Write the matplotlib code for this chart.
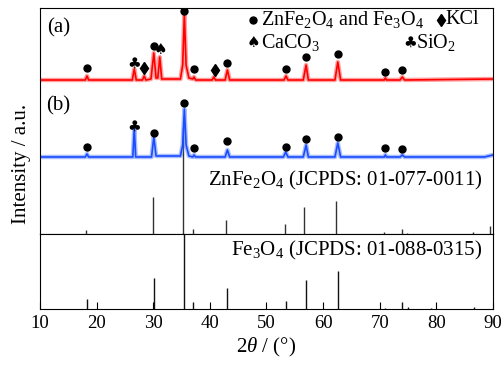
import numpy as np
import matplotlib
matplotlib.use("Agg")
import matplotlib.pyplot as plt

plt.rcParams['font.family'] = 'Liberation Serif'
plt.rcParams['mathtext.fontset'] = 'custom'
plt.rcParams['mathtext.rm'] = 'Liberation Serif'
plt.rcParams['mathtext.it'] = 'Liberation Serif:italic'

# ---- data (2theta in deg, intensity in a.u.) ----
red_tt = [10, 18.0, 18.3, 18.6, 26.3, 26.65, 27.0, 28.1, 28.4, 28.7, 29.6, 30.1, 30.5, 30.8,
          31.15, 31.5, 34.8, 35.2, 35.5, 35.8, 36.3, 37.0, 37.2, 37.5, 40.4, 40.7, 41.0,
          42.7, 43.1, 43.5, 53.1, 53.45, 53.8, 56.5, 57.0, 57.4, 62.1, 62.6, 63.1,
          70.8, 71.0, 71.2, 73.6, 74.0, 74.4, 90]
red_int = [0, 0, 4, 0, 0, 11, 0, 0, 4, 0, 1, 27, 2, 2,
           23, 1, 1, 15, 66, 15, 2, 1, 3, 0, 0, 3, 0,
           0, 10, 0, 0, 4, 0, 0, 15, 0, 0, 18, 0,
           0, 2, 0, 0, 3, 0, 1]

blue_tt = [10, 18.0, 18.3, 18.6, 26.4, 26.65, 26.9, 29.7, 30.1, 30.5, 34.8, 35.2, 35.5, 35.8,
           36.3, 37.0, 37.2, 37.5, 42.7, 43.1, 43.5, 53.0, 53.4, 53.8, 56.5, 57.0, 57.4,
           62.1, 62.6, 63.1, 70.8, 71.0, 71.2, 73.6, 74.0, 74.4, 88.5, 90]
blue_int = [0, 0, 3, 0, 0, 29, 0, 0, 20, 1, 1, 12, 48, 12,
            1, 0, 2, 0, 0, 7, 0, 0, 5, 0, 0, 12, 0,
            0, 14, 0, 0, 2, 0, 0, 2, 0, 0, 2]

# reference cards (relative intensity, %)
znfe_tt = [18.2, 29.9, 35.3, 37.0, 42.9, 53.2, 56.7, 62.3, 70.8, 73.9, 74.8, 86.5, 89.5]
znfe_int = [3.5, 35, 100, 5, 13.5, 9, 25, 31, 1.5, 5, 1.2, 2, 7]
fe3o4_tt = [18.3, 30.1, 35.45, 37.1, 43.1, 53.4, 57.0, 62.6, 71.0, 74.0, 75.0, 79.0, 86.7]
fe3o4_int = [14, 41, 100, 10, 28, 11, 39, 51, 2, 9, 3, 1.5, 2.5]

# phase markers for the two patterns
red_dot_tt = [18.3, 30.1, 35.5, 37.2, 43.1, 53.4, 57.0, 62.6, 71.0, 74.0]
red_dot_y = [166, 188, 223, 165, 171, 165, 177, 180, 162, 164]
red_club = (26.7, 171)
red_kcl_tt = [28.3, 40.9]
red_kcl_y = [166, 164]
red_spade = (31.3, 185)

blue_dot_tt = [18.3, 30.1, 35.5, 37.2, 43.1, 53.4, 57.0, 62.6, 71.0, 74.0]
blue_dot_y = [87, 101, 131, 86, 93, 87, 95, 97, 86, 85]
blue_club = (26.7, 108)

red_offset = 154
blue_offset = 77
znfe_scale = 1.07

fig = plt.figure(figsize=(5.04, 3.65), dpi=100)
ax1 = fig.add_axes([0.0794, 0.359, 0.8986, 0.619])
ax2 = fig.add_axes([0.0794, 0.1534, 0.8986, 0.2056], sharex=ax1)

# patterns (a pale band under the line stands in for the noise)
red_y = np.array(red_int) + red_offset
blue_y = np.array(blue_int) + blue_offset
ax1.plot(red_tt, red_y, color='#ff3030', lw=3.2, alpha=0.45)
ax1.plot(red_tt, red_y, color='#ff0000', lw=1.2)
ax1.plot(blue_tt, blue_y, color='#4070ff', lw=3.2, alpha=0.45)
ax1.plot(blue_tt, blue_y, color='#1a4cff', lw=1.2)

ax1.vlines(znfe_tt, 0, np.array(znfe_int) * znfe_scale, color='#333333', lw=1.0, zorder=1)
ax2.vlines(fe3o4_tt, 0, fe3o4_int, color='#111111', lw=1.0)

sym = dict(family='DejaVu Sans', ha='center', va='center', color='black')
ax1.plot(red_dot_tt, red_dot_y, 'o', color='black', ms=5)
ax1.plot(red_kcl_tt, red_kcl_y, 'd', color='black', ms=6)
ax1.text(red_club[0], red_club[1], '\u2663', fontsize=11, **sym)
ax1.text(red_spade[0], red_spade[1], '\u2660', fontsize=11, **sym)
ax1.plot(blue_dot_tt, blue_dot_y, 'o', color='black', ms=5)
ax1.text(blue_club[0], blue_club[1], '\u2663', fontsize=11, **sym)

# legend written inside the panel
ax1.plot([47.7], [214.5], 'o', color='black', ms=5)
ax1.text(49.1, 214.5, 'ZnFe$_2$O$_4$ and Fe$_3$O$_4$', fontsize=14.5, va='center')
ax1.plot([80.9], [214.5], 'd', color='black', ms=6)
ax1.text(81.6, 214.5, 'KCl', fontsize=14.5, va='center')
ax1.text(47.7, 191.5, '\u2660', fontsize=11, **sym)
ax1.text(49.1, 191.5, 'CaCO$_3$', fontsize=14.5, va='center')
ax1.text(75.3, 191.5, '\u2663', fontsize=11, **sym)
ax1.text(76.5, 191.5, 'SiO$_2$', fontsize=14.5, va='center')

ax1.text(11.2, 206, '(a)', fontsize=15, va='center')
ax1.text(11.0, 128, '(b)', fontsize=15, va='center')
ax1.text(88.1, 53, 'ZnFe$_2$O$_4$ (JCPDS: 01-077-0011)', fontsize=15, ha='right', va='center')
ax2.text(88.2, 78, 'Fe$_3$O$_4$ (JCPDS: 01-088-0315)', fontsize=15, ha='right', va='center')

ax1.set_xlim(10, 90)
ax1.set_ylim(0, 226)
ax2.set_ylim(0, 100)
ax1.tick_params(left=False, bottom=False, labelleft=False, labelbottom=False)
ax2.tick_params(left=False, labelleft=False)
ax2.set_xticks(np.arange(10, 91, 10))
ax2.tick_params(axis='x', direction='in', length=5, labelsize=13.5, pad=4)

ax2.set_xlabel('$2\\theta$ / (\u00b0)', fontsize=15, labelpad=3)
fig.text(0.042, 0.55, 'Intensity / a.u.', rotation=90, fontsize=15, ha='center', va='center')

fig.savefig('out.png', dpi=100)
